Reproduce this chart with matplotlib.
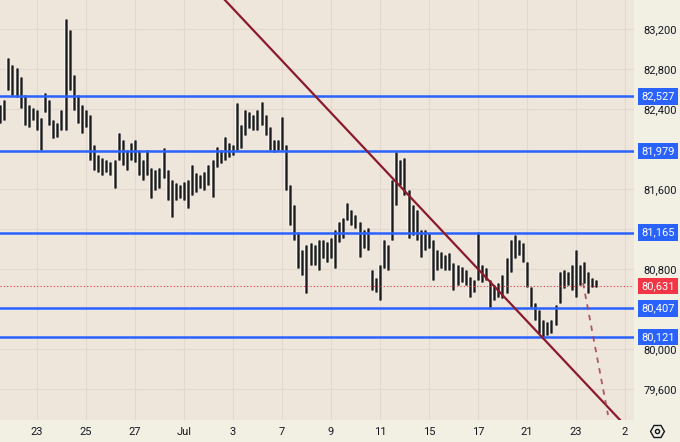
import numpy as np
import matplotlib.pyplot as plt
from matplotlib.lines import Line2D
import matplotlib.transforms as mtransforms

plt.rcParams['font.family'] = ['Roboto', 'DejaVu Sans']

# hourly-ish bars, 6 per trading day, first bar 1.5 days before the "23" tick
bars_per_day = 6
first_day = -1.5

highs = [82440, 82490, 82910, 82840, 82810, 82720, 82540, 82440, 82410, 82390,
         82310, 82560, 82490, 82290, 82260, 82390, 83300, 83190, 82740, 82540,
         82440, 82390, 82340, 82040, 81940, 81910, 81890, 81870, 81890, 82160,
         82090, 81990, 82060, 82090, 81990, 81890, 81990, 81810, 81790, 81810,
         82010, 81790, 81690, 81660, 81640, 81670, 81690, 81840, 81760, 81740,
         81770, 81840, 81890, 82020, 81990, 82120, 82060, 82040, 82460, 82240,
         82390, 82370, 82340, 82390, 82470, 82340, 82220, 82090, 82090, 82320,
         82040, 81640, 81440, 81170, 80990, 81040, 81060, 81040, 81090, 81090,
         81070, 81110, 81190, 81270, 81310, 81460, 81390, 81340, 81270, 81190,
         81210, 80790, 80710, 80840, 81090, 81040, 81690, 81970, 81890, 81910,
         81590, 81440, 81390, 81190, 81190, 81160, 81090, 80990, 80970, 80940,
         80960, 80860, 80840, 80820, 80790, 80720, 80690, 81170, 80840, 80810,
         80690, 80640, 80660, 80740, 80910, 81090, 81140, 81090, 81060, 80870,
         80620, 80460, 80390, 80290, 80270, 80290, 80440, 80770, 80790, 80770,
         80840, 80990, 80840, 80870, 80770, 80710, 80690]
lows = [82260, 82290, 82590, 82540, 82520, 82410, 82240, 82220, 82290, 82190,
        81990, 82370, 82240, 82110, 82120, 82190, 82190, 82590, 82390, 82260,
        82160, 82220, 81890, 81790, 81770, 81740, 81770, 81740, 81610, 81890,
        81840, 81790, 81890, 81870, 81740, 81690, 81740, 81510, 81590, 81610,
        81710, 81490, 81320, 81490, 81510, 81490, 81410, 81540, 81570, 81610,
        81590, 81640, 81520, 81820, 81860, 81890, 81920, 81940, 81990, 82010,
        82140, 82210, 82190, 82190, 82240, 82140, 81990, 81970, 81990, 81990,
        81590, 81240, 81090, 80810, 80740, 80560, 80840, 80840, 80790, 80910,
        80870, 80910, 80810, 81070, 81110, 81290, 81240, 81210, 80920, 81010,
        80990, 80590, 80570, 80490, 80810, 80790, 81090, 81440, 81640, 81540,
        81110, 81140, 81090, 80920, 80990, 81010, 80690, 80790, 80810, 80790,
        80790, 80590, 80640, 80670, 80640, 80520, 80570, 80690, 80670, 80690,
        80420, 80490, 80520, 80510, 80560, 80770, 80910, 80940, 80870, 80620,
        80420, 80290, 80160, 80120, 80140, 80160, 80240, 80460, 80610, 80640,
        80590, 80520, 80640, 80660, 80560, 80620, 80620]

levels = [82527, 81979, 81165, 80407, 80121]
last_price = 80631

# trend line anchors (day index, price) and the dashed projection
trend_pts = [(7.67, 83490), (23.80, 79290)]
proj_pts = [(22.29, 80660), (23.31, 79340)]

xtick_days = [0, 2, 4, 6, 8, 10, 12, 14, 16, 18, 20, 22, 24]
xtick_labels = ['23', '25', '27', 'Jul', '3', '7', '9', '11', '15', '17', '21', '23', '2']
ytick_vals = [79600, 80000, 80800, 81200, 81600, 82400, 82800, 83200]

W, H = 680, 442
fig = plt.figure(figsize=(6.8, 4.42), dpi=100)
fig.patch.set_facecolor('#F2F0E2')
ax = fig.add_axes([0, 22 / H, 634 / W, 420 / H])
ax.set_facecolor('#EEE5DB')

x = first_day + np.arange(len(highs)) / bars_per_day
ax.vlines(x, lows, highs, color='white', lw=3.0, alpha=0.55, zorder=3)
ax.vlines(x, lows, highs, color='#4d4d4d', lw=2.0, zorder=4)
ax.vlines(x, lows, highs, color='#1a1a1a', lw=0.7, zorder=4)

for lv in levels:
    ax.axhline(lv, color='#2962FF', lw=1.8, zorder=5)
ax.axhline(last_price, color='#F23645', lw=0.8, ls=(0, (1, 2)), zorder=5)

(tx0, ty0), (tx1, ty1) = trend_pts
ax.plot([tx0, tx1], [ty0, ty1], color='#8B1A2C', lw=1.6, zorder=6)
(px0, py0), (px1, py1) = proj_pts
ax.plot([px0, px1], [py0, py1], color='#A0404F', lw=1.3, ls=(0, (3, 3)), alpha=0.85, zorder=6)

ax.set_xlim(-1.51, 24.37)
ax.set_ylim(79290, 83490)

ax.set_xticks(xtick_days)
ax.set_xticklabels(xtick_labels)
ax.set_yticks(ytick_vals)
ax.set_yticklabels([f'{v:,}' for v in ytick_vals])
ax.yaxis.tick_right()
ax.tick_params(axis='both', length=0, labelsize=8, colors='#131722')
ax.tick_params(axis='y', pad=7)
ax.tick_params(axis='x', pad=5)
ax.grid(True, color='#E2D8CD', lw=0.8, zorder=0)
ax.set_axisbelow(True)
for s in ax.spines.values():
    s.set_visible(False)

# price labels on the right scale
trans = mtransforms.blended_transform_factory(ax.transAxes, ax.transData)
for lv in levels:
    ax.text(1.011, lv, f'{lv:,}', transform=trans, ha='left', va='center',
            fontsize=8, color='white', clip_on=False, zorder=10,
            bbox=dict(boxstyle='square,pad=0.3', fc='#2962FF', ec='none'))
ax.text(1.011, last_price, f'{last_price:,}', transform=trans, ha='left', va='center',
        fontsize=8, color='white', clip_on=False, zorder=10,
        bbox=dict(boxstyle='square,pad=0.3', fc='#F23645', ec='none'))

# settings icon bottom right
fig.add_artist(Line2D([657 / W], [1 - 431 / H], marker='H', ms=10, mfc='none',
                      mec='#131722', mew=1.0, transform=fig.transFigure))
fig.add_artist(Line2D([657 / W], [1 - 431 / H], marker='o', ms=3, mfc='none',
                      mec='#131722', mew=1.0, transform=fig.transFigure))

fig.savefig('out.png', dpi=100, facecolor=fig.get_facecolor())
